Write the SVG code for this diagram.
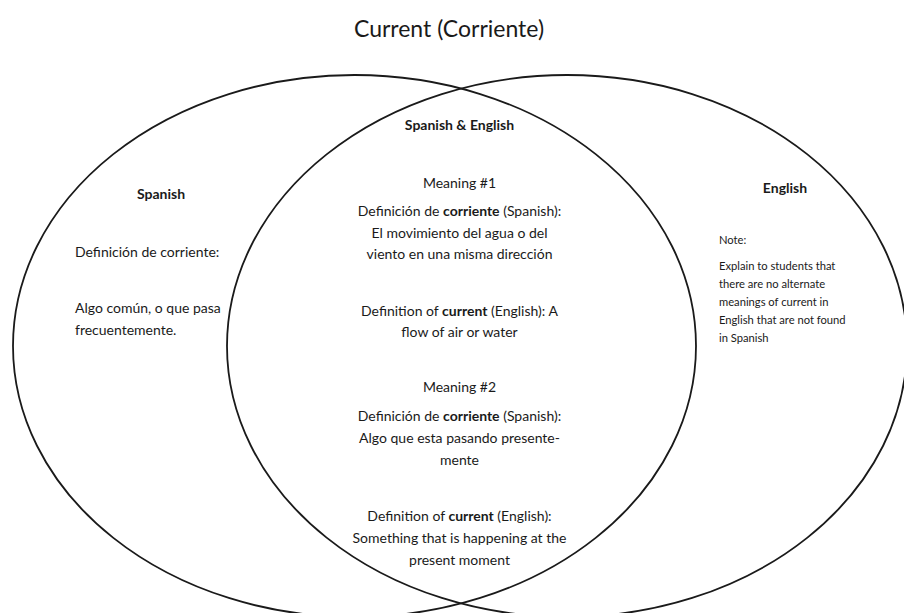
<svg xmlns="http://www.w3.org/2000/svg" width="904" height="613" viewBox="0 0 904 613">
<style>
.set{fill:none;stroke:#1a1a1a;stroke-width:1.8}
text{font-family:Lato,"Liberation Sans",sans-serif;fill:#1a1a1a}
.t{font-size:23px;text-anchor:middle}
.b{font-size:14px}
.c{text-anchor:middle}
.h{font-weight:bold}
.s{font-size:11.2px}
</style>
<rect width="904" height="613" fill="#fff"/>
<g id="title"><text class="t" x="449" y="37">Current (Corriente)</text></g>
<g id="set-spanish">
<ellipse class="set" cx="354.5" cy="346" rx="341.5" ry="271"/>
<text class="b c h" x="161" y="199">Spanish</text>
<text class="b" x="75" y="257">Definición de corriente:</text>
<text class="b" x="75" y="313">Algo común, o que pasa</text>
<text class="b" x="75" y="335">frecuentemente.</text>
</g>
<g id="set-english">
<ellipse class="set" cx="567" cy="346" rx="340" ry="271"/>
<text class="b c h" x="785" y="193">English</text>
<text class="s" x="719" y="244">Note:</text>
<text class="s" x="719" y="270">Explain to students that</text>
<text class="s" x="719" y="288">there are no alternate</text>
<text class="s" x="719" y="306">meanings of current in</text>
<text class="s" x="719" y="324">English that are not found</text>
<text class="s" x="719" y="342">in Spanish</text>
</g>
<g id="overlap">
<text class="b c h" x="459.5" y="130">Spanish &amp; English</text>
<text class="b c" x="459.5" y="188">Meaning #1</text>
<text class="b c" x="459.5" y="216">Definición de <tspan class="h">corriente</tspan> (Spanish):</text>
<text class="b c" x="459.5" y="238">El movimiento del agua o del</text>
<text class="b c" x="459.5" y="259">viento en una misma dirección</text>
<text class="b c" x="459.5" y="316">Definition of <tspan class="h">current</tspan> (English): A</text>
<text class="b c" x="459.5" y="337">flow of air or water</text>
<text class="b c" x="459.5" y="392">Meaning #2</text>
<text class="b c" x="459.5" y="421">Definición de <tspan class="h">corriente</tspan> (Spanish):</text>
<text class="b c" x="459.5" y="443">Algo que esta pasando presente-</text>
<text class="b c" x="459.5" y="465">mente</text>
<text class="b c" x="459.5" y="521">Definition of <tspan class="h">current</tspan> (English):</text>
<text class="b c" x="459.5" y="543">Something that is happening at the</text>
<text class="b c" x="459.5" y="565">present moment</text>
</g>
</svg>
